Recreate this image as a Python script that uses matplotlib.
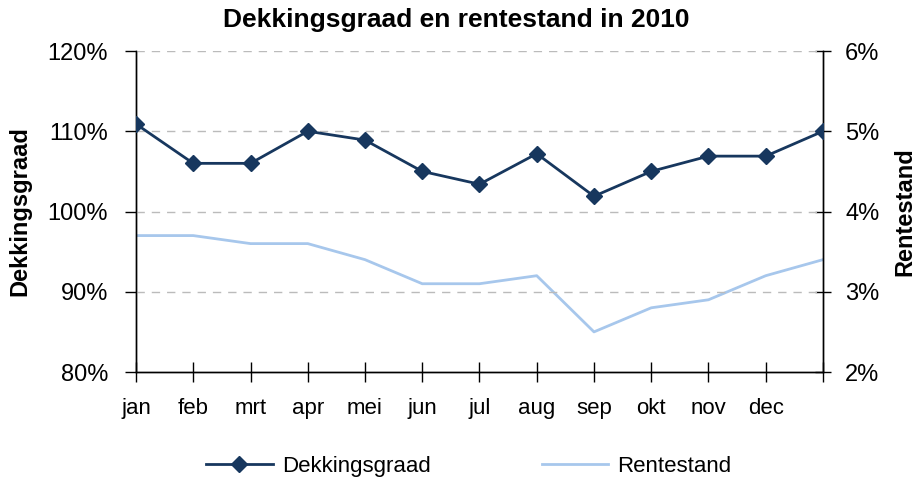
import numpy as np
import matplotlib.pyplot as plt
from matplotlib.ticker import FuncFormatter

plt.rcParams['font.family'] = ['Liberation Sans', 'DejaVu Sans']

months = ['jan', 'feb', 'mrt', 'apr', 'mei', 'jun', 'jul', 'aug', 'sep', 'okt', 'nov', 'dec', '']
dekkingsgraad = [110.9, 106.0, 106.0, 110.0, 108.9, 105.0, 103.4, 107.2, 101.9, 105.0, 106.9, 106.9, 110.0]
rentestand = [3.7, 3.7, 3.6, 3.6, 3.4, 3.1, 3.1, 3.2, 2.5, 2.8, 2.9, 3.2, 3.4]

navy = '#17375E'
light = '#A7C7EC'

fig = plt.figure(figsize=(9.19, 4.83), dpi=100)
ax = fig.add_axes([0.148, 0.2298, 0.7475, 0.6646])
ax2 = ax.twinx()

x = np.arange(len(months))
l1, = ax.plot(x, dekkingsgraad, color=navy, lw=2, marker='D', markersize=8, label='Dekkingsgraad', zorder=3)
l2, = ax2.plot(x, rentestand, color=light, lw=2, label='Rentestand')

ax.set_zorder(ax2.get_zorder() + 1)
ax.patch.set_visible(False)

ax.set_xlim(0, len(months) - 1)
ax.set_ylim(80, 120)
ax2.set_ylim(2, 6)
ax.set_yticks([80, 90, 100, 110, 120])
ax2.set_yticks([2, 3, 4, 5, 6])
ax.yaxis.set_major_formatter(FuncFormatter(lambda v, p: '%d%%' % v))
ax2.yaxis.set_major_formatter(FuncFormatter(lambda v, p: '%d%%' % v))

ax.set_xticks(x)
ax.set_xticklabels(months)
ax.tick_params(axis='x', direction='inout', length=14, width=1, pad=12, labelsize=16)
ax.tick_params(axis='y', direction='out', length=8, width=1, labelsize=17, pad=12)
ax2.tick_params(axis='y', direction='inout', length=12, width=1, labelsize=17, pad=10)

for a in (ax, ax2):
    a.spines['top'].set_visible(False)
    for s in ('left', 'right', 'bottom'):
        a.spines[s].set_color('black')
        a.spines[s].set_linewidth(1)

for v in [90, 100, 110, 120]:
    ax.axhline(v, color='#BBBBBB', lw=1, ls=(0, (6, 5)), zorder=0)

ax.set_ylabel('Dekkingsgraad', fontsize=17, fontweight='bold', labelpad=12)
ax2.set_ylabel('Rentestand', fontsize=17, fontweight='bold', labelpad=10)
fig.text(0.497, 0.958, 'Dekkingsgraad en rentestand in 2010', fontsize=19, fontweight='bold',
         ha='center', va='center')

fig.legend(handles=[l1, l2], loc='center', bbox_to_anchor=(0.51, 0.035), ncol=2,
           frameon=False, fontsize=16, handlelength=3.0, columnspacing=5.0, handletextpad=0.4)

fig.savefig('out.png', dpi=100)
